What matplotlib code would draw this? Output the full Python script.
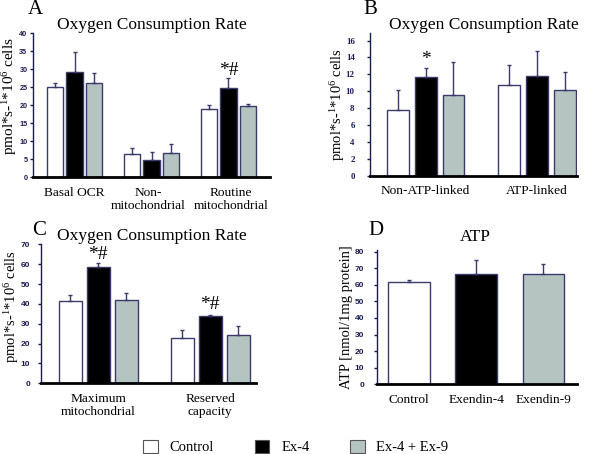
import matplotlib
matplotlib.use("Agg")
import matplotlib.pyplot as plt
from matplotlib.patches import Patch
import numpy as np

plt.rcParams['font.family'] = ['Liberation Serif', 'DejaVu Serif']
plt.rcParams['mathtext.default'] = 'regular'

series = ['Control', 'Ex-4', 'Ex-4 + Ex-9']
colors = ['white', 'black', '#b5c4c1']
edge = '#3b3b6b'
navy = '#1c1c50'

# Panel A
catA = ['Basal OCR', 'Non-\nmitochondrial', 'Routine\nmitochondrial']
valA = [[24.9, 6.4, 18.9], [29.3, 4.6, 24.7], [26.2, 6.6, 19.8]]
errA = [[1.2, 1.7, 1.0], [5.4, 2.3, 2.7], [2.7, 2.5, 0.5]]
# Panel B
catB = ['Non-ATP-linked', 'ATP-linked']
valB = [[7.75, 10.8], [11.7, 11.85], [9.5, 10.2]]
errB = [[2.35, 2.3], [1.0, 2.95], [4.0, 2.1]]
# Panel C
catC = ['Maximum\nmitochondrial', 'Reserved\ncapacity']
valC = [[41.4, 23.0], [58.4, 33.9], [41.9, 24.3]]
errC = [[3.2, 3.8], [2.3, 0.7], [3.6, 4.7]]
# Panel D
catD = ['Control', 'Exendin-4', 'Exendin-9']
valD = [61.5, 66.7, 66.7]
errD = [1.6, 8.3, 5.7]

W, H = 600, 454
fig = plt.figure(figsize=(6, 4.54), dpi=100)

def axes_px(l, r, top, bot):
    return fig.add_axes([l / W, 1 - bot / H, (r - l) / W, (bot - top) / H])

def style(ax, ylim, yticks, pad, tfam='Liberation Sans', tsize=5.5):
    ax.set_ylim(*ylim)
    ax.set_yticks(yticks)
    for s in ['top', 'right']:
        ax.spines[s].set_visible(False)
    ax.spines['left'].set_color(navy)
    ax.spines['left'].set_linewidth(1.0)
    ax.spines['bottom'].set_color('black')
    ax.spines['bottom'].set_linewidth(2.0)
    ax.tick_params(axis='y', labelsize=tsize, colors=navy, length=2, width=1, pad=pad)
    for t in ax.get_yticklabels():
        t.set_fontweight('bold')
        t.set_family(tfam)
    ax.tick_params(axis='x', length=0, labelsize=9.6, pad=7)

def grouped(ax, cats, vals, errs, width, step, tickpos=None):
    x = np.arange(len(cats))
    for i in range(3):
        ax.bar(x + (i - 1) * step, vals[i], width, color=colors[i], edgecolor=edge,
               linewidth=1.0, yerr=[np.zeros(len(cats)), errs[i]],
               error_kw=dict(ecolor=edge, elinewidth=1.0, capsize=1.5, capthick=1.0))
    ax.set_xticks(x if tickpos is None else tickpos)
    ax.set_xticklabels(cats, linespacing=1.1)

ylab = r'pmol*s-$^{1}$*10$^{6}$ cells'

# A
axA = axes_px(33, 270, 33, 177)
grouped(axA, catA, valA, errA, 0.21, 0.25, tickpos=[0, 0.96, 2.03])
axA.set_xlim(-0.54, 2.54)
style(axA, (0, 40), range(0, 41, 5), pad=2, tsize=5.2)
axA.set_ylabel(ylab, fontsize=11)
axA.yaxis.set_label_coords(-0.058, 0.56)
axA.text(2, 28.3, '*#', ha='center', va='baseline', fontsize=14)

# B
axB = axes_px(370, 577, 33, 175.7)
grouped(axB, catB, valB, errB, 0.196, 0.25)
axB.set_xlim(-0.5, 1.36)
style(axB, (0, 16.9), range(0, 17, 2), pad=9, tfam='Liberation Serif', tsize=6.5)
axB.set_ylabel(ylab, fontsize=10.5)
axB.yaxis.set_label_coords(-0.11, 0.5)
axB.text(0, 13.2, '*', ha='center', va='baseline', fontsize=14)

# C
axC = axes_px(41, 256, 244.3, 383.3)
grouped(axC, catC, valC, errC, 0.205, 0.25)
axC.set_xlim(-0.51, 1.41)
style(axC, (0, 70), range(0, 71, 10), pad=6, tsize=6)
axC.set_ylabel(ylab, fontsize=10.5)
axC.yaxis.set_label_coords(-0.095, 0.55)
axC.text(0, 62.5, '*#', ha='center', va='baseline', fontsize=14)
axC.text(1, 37.3, '*#', ha='center', va='baseline', fontsize=14)

# D
axD = axes_px(376.7, 577, 250, 384.3)
xD = np.arange(len(catD))
axD.bar(xD, valD, 0.62, color=colors, edgecolor=edge, linewidth=1.0,
        yerr=[np.zeros(3), errD],
        error_kw=dict(ecolor=edge, elinewidth=1.0, capsize=1.5, capthick=1.0))
axD.set_xticks(xD)
axD.set_xticklabels(catD)
axD.set_xlim(-0.48, 2.5)
style(axD, (0, 81), range(0, 81, 10), pad=7, tsize=6)
axD.set_ylabel('ATP [nmol/1mg protein]', fontsize=10.5)
axD.yaxis.set_label_coords(-0.12, 0.5)

def ftext(x, y, s, **kw):
    fig.text(x / W, 1 - y / H, s, **kw)

ftext(152, 25, 'Oxygen Consumption Rate', ha='center', va='center', fontsize=12.5)
ftext(484, 25, 'Oxygen Consumption Rate', ha='center', va='center', fontsize=12.5)
ftext(152, 236, 'Oxygen Consumption Rate', ha='center', va='center', fontsize=12.5)
ftext(475, 237, 'ATP', ha='center', va='center', fontsize=12.5)
ftext(28, 10, 'A', ha='left', va='center', fontsize=15)
ftext(363, 10, 'B', ha='left', va='center', fontsize=15)
ftext(32, 231, 'C', ha='left', va='center', fontsize=15)
ftext(368, 231, 'D', ha='left', va='center', fontsize=15)

handles = [Patch(facecolor=c, edgecolor='#555555', linewidth=0.8) for c in colors]
fig.legend(handles, series, loc='center', bbox_to_anchor=(296 / W, 1 - 447 / H), ncol=3,
           frameon=False, fontsize=10.5, handlelength=1.0, handleheight=1.0,
           columnspacing=2.8, handletextpad=0.8)

fig.savefig('out.png', dpi=100)
